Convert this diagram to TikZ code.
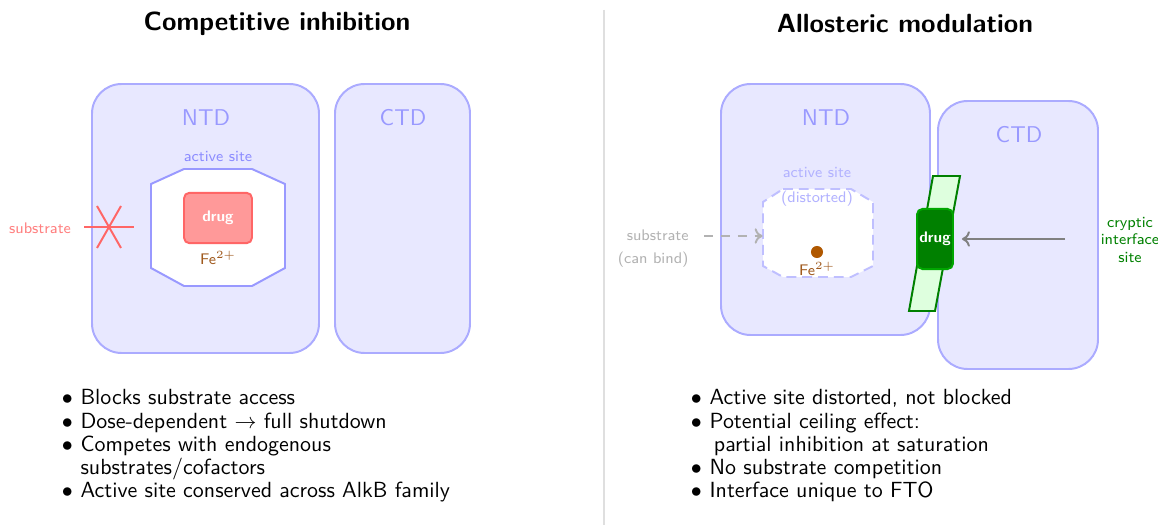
\documentclass[tikz,border=0pt]{standalone}
\usetikzlibrary{arrows.meta,fit}
\renewcommand{\familydefault}{\sfdefault}
\definecolor{ironbrown}{RGB}{160,90,30}
\definecolor{irondot}{RGB}{176,88,0}
\begin{document}
\begin{tikzpicture}[x=0.456pt,y=-0.456pt,
  dombox/.style={draw=blue!33, fill=blue!9, line width=0.9pt, rounded corners=13.5pt, inner sep=0pt},
  domlabel/.style={text=blue!40, font=\fontsize{10.4pt}{12pt}\selectfont},
  sitelabel/.style={font=\scriptsize, align=center},
  paneltitle/.style={font=\large\bfseries},
  bullets/.style={anchor=base west, inner sep=0pt, align=left, font=\normalsize},
  drugbox/.style={rounded corners=2.5pt, line width=0.9pt, text=white, font=\scriptsize\bfseries, inner sep=0pt},
  ghost/.style={inner sep=0pt, draw=none},
  tip/.style={-{To[length=3.6pt,width=7pt]}}]
\useasboundingbox (0,0) rectangle (1158,525);

% divider between the two panels
\draw[gray!25, line width=0.9pt] (604,10) -- (604,525);

% ---------------- left panel: competitive inhibition ----------------
\node[paneltitle] (titleL) at (277,24) {Competitive inhibition};

\node[dombox, fit={(92,84) (319,353)}] (ntdL) {};
\node[dombox, fit={(335,84) (470,353)}] (ctdL) {};
\node[domlabel] (ntdLlab) at (206,118) {NTD};
\node[domlabel] (ctdLlab) at (403,118) {CTD};

\node[sitelabel, text=blue!45] (siteLlab) at (218,157) {active site};
\draw[blue!40, fill=white, line width=0.9pt]
  (184,169) -- (252,169) -- (285,184) -- (285,268) -- (252,286)
  -- (184,286) -- (151,268) -- (151,184) -- cycle;
\node[ghost, fit={(151,169) (285,286)}] (siteL) {};

\node[drugbox, draw=red!60, fill=red!40, minimum width=31pt, minimum height=23pt] (drugL) at (218,218) {drug};
\node[text=ironbrown, font=\scriptsize, inner sep=1pt] (feL) at (218,258) {Fe$^{2+}$};

\node[text=red!50, font=\scriptsize] (subL) at (40,228) {substrate};
\coordinate (crossC) at (109,227);
\draw[red!60, line width=0.9pt] ([shift={(-25,0)}]crossC) -- ([shift={(25,0)}]crossC);
\draw[red!60, line width=0.9pt] ([shift={(-12,-21)}]crossC) -- ([shift={(12,21)}]crossC);
\draw[red!60, line width=0.9pt] ([shift={(12,-21)}]crossC) -- ([shift={(-12,21)}]crossC);

\node[bullets] (listL) at (61.5,405) {%
  \renewcommand{\arraystretch}{0.88}%
  \begin{tabular}[t]{@{}l@{\hspace{3.5pt}}l@{}}
  $\bullet$ & Blocks substrate access\\
  $\bullet$ & Dose-dependent $\rightarrow$ full shutdown\\
  $\bullet$ & Competes with endogenous\\
            & substrates/cofactors\\
  $\bullet$ & Active site conserved across AlkB family
  \end{tabular}};

% ---------------- right panel: allosteric modulation ----------------
\node[paneltitle] (titleR) at (905,24) {Allosteric modulation};

\node[dombox, fit={(721,84) (930,335)}] (ntdR) {};
\node[dombox, fit={(938,101) (1098,369)}] (ctdR) {};
\node[domlabel] (ntdRlab) at (826,118) {NTD};
\node[domlabel] (ctdRlab) at (1019,135) {CTD};

\draw[blue!25, fill=white, line width=0.9pt, dash pattern=on 4.5pt off 2.7pt]
  (783,189) -- (851,189) -- (873,202) -- (873,266) -- (851,277)
  -- (783,277) -- (763,266) -- (763,202) -- cycle;
\node[ghost, fit={(763,189) (873,277)}] (siteR) {};
\node[sitelabel, text=blue!30] (siteRlab) at (817,186.5) {active site\\[3.4pt](distorted)};

\node[circle, fill=irondot, minimum size=5.5pt, inner sep=0pt] (feDot) at (817,252) {};
\node[text=ironbrown, font=\scriptsize, inner sep=1pt] (feR) at (817,269) {Fe$^{2+}$};

\node[text=black!30, font=\scriptsize, align=right, anchor=east, inner sep=0pt] (subR) at (689,248.5) {substrate\\[2.5pt](can bind)};
\coordinate (subRtail) at (704,236);
\draw[black!30, line width=0.9pt, dash pattern=on 4pt off 3.7pt, tip]
  (subRtail) -- (siteR.west |- subRtail);

\draw[green!50!black, fill=green!13, line width=0.9pt]
  (933,176) -- (960,176) -- (935,311) -- (909,311) -- cycle;
\node[drugbox, draw=green!65!black, fill=green!50!black, minimum width=16.4pt, minimum height=27.4pt] (drugR) at (935,239) {drug};

\node[text=green!50!black, font=\scriptsize, align=center] (cryptic) at (1130,240) {cryptic\\interface\\site};
\coordinate (crypTail) at (1065,239);
\draw[gray, line width=0.9pt, tip] (crypTail) -- ([shift={(8,0)}]drugR.east |- crypTail);

\node[bullets] (listR) at (690.5,405) {%
  \renewcommand{\arraystretch}{0.88}%
  \begin{tabular}[t]{@{}l@{\hspace{3.5pt}}l@{}}
  $\bullet$ & Active site distorted, not blocked\\
  $\bullet$ & Potential ceiling effect:\\
            & \hspace{2pt}partial inhibition at saturation\\
  $\bullet$ & No substrate competition\\
  $\bullet$ & Interface unique to FTO
  \end{tabular}};
\end{tikzpicture}
\end{document}
